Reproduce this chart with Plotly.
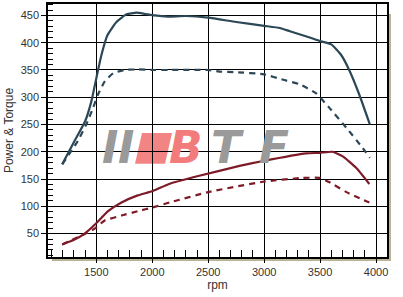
import plotly.graph_objects as go

# ---- data ----
torque_tuned_rpm = [1195, 1300, 1400, 1455, 1500, 1545, 1600, 1680, 1770, 1860, 1930, 2020, 2140, 2300, 2500, 2750, 3000, 3140, 3230, 3400, 3500, 3600, 3690, 3760, 3850, 3945]
torque_tuned = [177, 218, 256, 292, 335, 377, 414, 438, 452, 455, 453, 450, 448, 449, 446, 438, 431, 427, 421, 410, 403, 397, 377, 350, 305, 250]

torque_stock_rpm = [1195, 1335, 1410, 1470, 1515, 1575, 1650, 1750, 1870, 2020, 2150, 2500, 2600, 2750, 3000, 3170, 3315, 3465, 3585, 3735, 3880, 3945]
torque_stock = [177, 220, 250, 280, 305, 329, 344, 350, 351, 350, 350, 350, 347, 346, 342, 332, 324, 307, 280, 244, 207, 189]

power_tuned_rpm = [1195, 1305, 1395, 1500, 1605, 1725, 1870, 2005, 2150, 2420, 2780, 2990, 3375, 3495, 3610, 3700, 3820, 3940]
power_tuned = [30, 39, 50, 69, 91, 107, 120, 128, 141, 156, 174, 183, 197, 198, 200, 192, 171, 141]

power_stock_rpm = [1195, 1395, 1485, 1575, 1725, 1870, 2005, 2155, 2500, 2990, 3345, 3495, 3585, 3735, 3940]
power_stock = [30, 49, 59, 74, 83, 91, 98, 107, 126, 145, 152, 152, 144, 126, 107]

x_ticks = [1500, 2000, 2500, 3000, 3500, 4000]
y_ticks = [50, 100, 150, 200, 250, 300, 350, 400, 450]

BLUE = "#2C4756"
RED = "#7E1B28"

fig = go.Figure()
series = [
    (torque_tuned_rpm, torque_tuned, BLUE, "solid"),
    (torque_stock_rpm, torque_stock, BLUE, "6px,5px"),
    (power_tuned_rpm, power_tuned, RED, "solid"),
    (power_stock_rpm, power_stock, RED, "6px,5px"),
]
for xs, ys, c, d in series:
    fig.add_trace(go.Scatter(x=xs, y=ys, mode="lines",
                             line=dict(color=c, width=2.2, dash=d, shape="spline", smoothing=0.45),
                             showlegend=False, hoverinfo="skip"))

# geometry helpers for decoration (pixel -> paper)
L, R, T, B = 48, 387, 2, 257
def px(x):
    return (x - L) / (R - L)
def py(y):
    return (B - y) / (B - T)

shapes = [
    dict(type="rect", xref="paper", yref="paper", x0=px(387.5), x1=px(391), y0=py(261), y1=py(12),
         fillcolor="#B9B39A", line=dict(width=0), layer="below"),
    dict(type="rect", xref="paper", yref="paper", x0=px(52), x1=px(391), y0=py(261), y1=py(257.5),
         fillcolor="#B9B39A", line=dict(width=0), layer="below"),
    dict(type="path", xref="paper", yref="paper",
         path=f"M {px(142)} {py(132)} L {px(172)} {py(132)} L {px(165)} {py(163)} L {px(135)} {py(163)} Z",
         fillcolor="rgba(240,110,110,0.85)", line=dict(width=0), layer="below"),
]

font_logo = "DejaVu Sans"
annotations = []
for ch, cx, col in [("I", 110, "#9A9A9A"), ("I", 126, "#9A9A9A"), ("B", 186, "#F27C7C"),
                    ("T", 227, "#9A9A9A"), ("F", 274, "#9A9A9A")]:
    annotations.append(dict(text=f"<b><i>{ch}</i></b>", x=px(cx), y=py(147), xref="paper", yref="paper",
                            showarrow=False, xanchor="center", yanchor="middle",
                            font=dict(family=font_logo, size=44, color=col)))

fig.update_layout(
    width=403, height=297,
    margin=dict(l=L, r=403 - R, t=T, b=297 - B),
    paper_bgcolor="white", plot_bgcolor="white",
    shapes=shapes, annotations=annotations,
    font=dict(family="Liberation Sans, Arial, sans-serif", size=11, color="#333333"),
    xaxis=dict(range=[1068, 4098], tickvals=x_ticks, ticks="outside", ticklen=4, tickcolor="black",
               showgrid=True, gridcolor="black", gridwidth=1, zeroline=False,
               showline=True, linecolor="black", linewidth=1.5, mirror=True,
               minor=dict(dtick=100, ticks="inside", ticklen=7, tickcolor="black", showgrid=False),
               title=dict(text="rpm", font=dict(size=12, color="#333333"), standoff=3),
               tickfont=dict(size=11, color="#333333")),
    yaxis=dict(range=[7, 471], tickvals=y_ticks, ticks="outside", ticklen=5, tickcolor="black",
               showgrid=True, gridcolor="black", gridwidth=1, zeroline=False,
               showline=True, linecolor="black", linewidth=1.5, mirror=True,
               minor=dict(dtick=10, ticks="inside", ticklen=5, tickcolor="black", showgrid=False),
               title=dict(text="Power & Torque", font=dict(size=12, color="#333333"), standoff=4),
               tickfont=dict(size=11, color="#333333")),
)

fig.write_html("out.html")
